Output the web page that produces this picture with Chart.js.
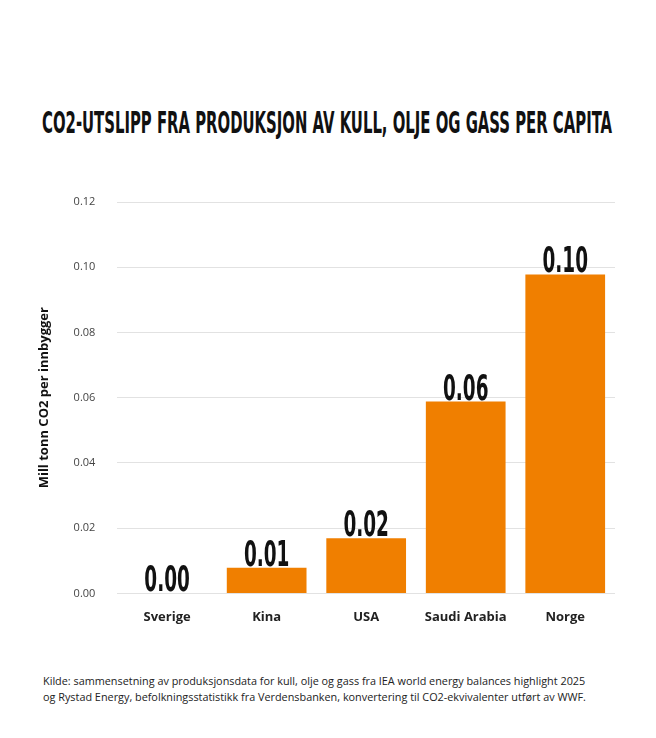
<!DOCTYPE html>
<html>
<head>
<meta charset="utf-8">
<script src="https://cdn.jsdelivr.net/npm/chart.js@4/dist/chart.umd.min.js"></script>
<style>
  html, body { margin: 0; padding: 0; background: #fff; }
  body { width: 656px; height: 738px; position: relative; overflow: hidden; font-family: 'Open Sans', sans-serif; }
  #title {
    position: absolute; top: 105px; left: 42px; white-space: nowrap;
    font-family: 'DejaVu Sans Condensed', 'Liberation Sans Narrow', sans-serif; font-weight: bold;
    font-size: 30px; color: #111; transform-origin: 0 0;
  }
  #wrap { position: absolute; top: 171px; left: 0; width: 656px; height: 462px; }
  #caption { position: absolute; top: 673px; left: 43px; font-size: 10.85px; line-height: 16px; color: #222; white-space: nowrap; }
</style>
</head>
<body>
<div id="title">CO2-UTSLIPP FRA PRODUKSJON AV KULL, OLJE OG GASS PER CAPITA</div>
<div id="wrap"><canvas id="chart"></canvas></div>
<div id="caption">Kilde: sammensetning av produksjonsdata for kull, olje og gass fra IEA world energy balances highlight 2025<br>og Rystad Energy, befolkningsstatistikk fra Verdensbanken, konvertering til CO2-ekvivalenter utført av WWF.</div>
<script>
'use strict';
// data
var categories = ['Sverige', 'Kina', 'USA', 'Saudi Arabia', 'Norge'];
var values = [0.0001, 0.0079, 0.0169, 0.0588, 0.0978];
var valueLabels = ['0.00', '0.01', '0.02', '0.06', '0.10'];
var yTicks = [0, 0.02, 0.04, 0.06, 0.08, 0.10, 0.12];

var barColor = '#F07F00';

// squeeze the title so it spans the same width as the original condensed font
var titleEl = document.getElementById('title');
titleEl.style.transform = 'scaleX(' + (570 / titleEl.offsetWidth) + ')';

// big condensed numbers above each bar
var valueLabelPlugin = {
  id: 'valueLabels',
  afterDatasetsDraw: function(chart) {
    var ctx = chart.ctx;
    var meta = chart.getDatasetMeta(0);
    ctx.save();
    ctx.fillStyle = '#111';
    ctx.font = 'bold 36px "DejaVu Sans Condensed", "Liberation Sans Narrow", sans-serif';
    ctx.textAlign = 'center';
    ctx.textBaseline = 'alphabetic';
    meta.data.forEach(function(bar, i) {
      ctx.save();
      ctx.translate(bar.x, bar.y - 2);
      ctx.scale(0.57, 1);
      ctx.fillText(valueLabels[i], 0, 0);
      ctx.restore();
    });
    ctx.restore();
  }
};

new Chart(document.getElementById('chart').getContext('2d'), {
  type: 'bar',
  data: {
    labels: categories,
    datasets: [{
      data: values,
      backgroundColor: barColor,
      categoryPercentage: 0.9,
      barPercentage: 0.89
    }]
  },
  options: {
    responsive: true,
    maintainAspectRatio: false,
    animation: false,
    layout: { padding: { top: 31, right: 41, left: 36, bottom: 0 } },
    plugins: { legend: { display: false }, tooltip: { enabled: false } },
    scales: {
      x: {
        grid: { display: false },
        border: { display: false },
        ticks: { color: '#222', padding: 8, font: { family: 'Open Sans', size: 13, weight: 'bold' } }
      },
      y: {
        min: 0,
        max: 0.12,
        afterBuildTicks: function(axis) {
          axis.ticks = yTicks.map(function(v) { return { value: v }; });
        },
        grid: { color: '#e2e2e2', drawTicks: false, lineWidth: 1 },
        border: { display: false },
        ticks: {
          color: '#444', padding: 22,
          font: { family: 'Open Sans', size: 11 },
          callback: function(v) { return v.toFixed(2); }
        },
        title: {
          display: true, text: 'Mill tonn CO2 per innbygger', color: '#111',
          font: { family: 'Open Sans', size: 13, weight: 'bold' }, padding: { top: 0, bottom: 0 }
        }
      }
    }
  },
  plugins: [valueLabelPlugin]
});
</script>
</body>
</html>
